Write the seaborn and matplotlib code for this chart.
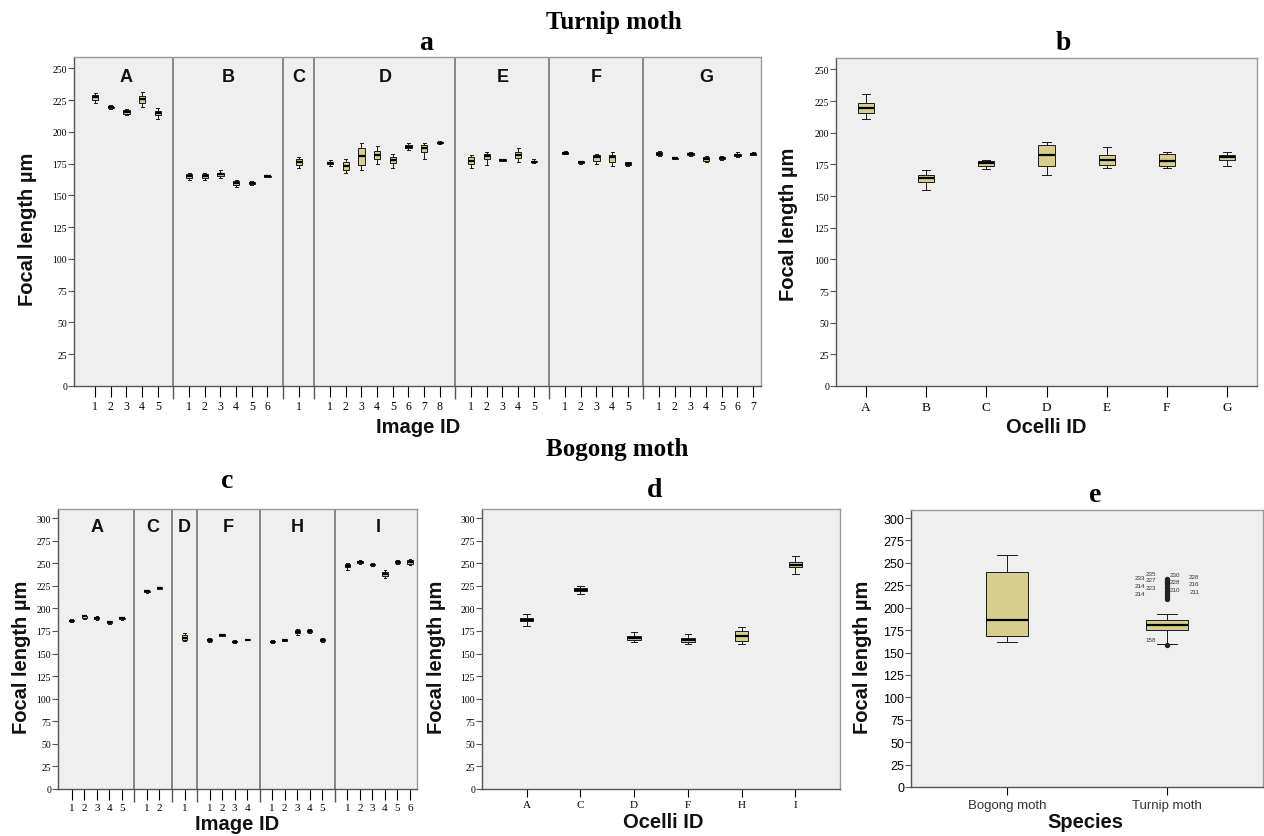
import matplotlib
matplotlib.use("Agg")
import matplotlib.pyplot as plt
import matplotlib.transforms as mtransforms
import numpy as np
import pandas as pd
import seaborn as sns

# every box is given as (low whisker, Q1, median, Q3, high whisker), focal length in µm

# a: turnip moth, one box per image, grouped by ocellus
turnip_ocelli = ["A", "B", "C", "D", "E", "F", "G"]
turnip_img_A = [(223, 225.5, 227.5, 229, 231), (218, 218.8, 219.4, 220, 221),
                (213, 214.5, 216, 217, 218), (220, 223, 226, 228, 231.5),
                (210.5, 213, 215, 216.5, 218.5)]
turnip_img_B = [(162, 163.5, 165, 167, 168), (162.5, 164, 165.5, 167, 168),
                (164, 165.5, 167, 168, 170), (157, 158.5, 159.7, 161, 162.5),
                (158, 159, 159.7, 160.5, 161.5), (164.5, 164.8, 165, 165.2, 165.5)]
turnip_img_C = [(171.5, 174, 176.5, 178.5, 180.5)]
turnip_img_D = [(173, 174.5, 175.5, 176.5, 178), (167.5, 170, 173, 176, 178.5),
                (170, 174, 181, 187.5, 191), (175, 178.5, 182, 185, 189),
                (172, 175.5, 178, 180, 183), (186, 187.5, 188.5, 189.5, 191),
                (179, 184, 187, 190, 191), (190.5, 191, 191.6, 192, 192.5)]
turnip_img_E = [(172, 174.5, 177, 180, 182), (174, 178.5, 181, 183, 184),
                (177, 177.5, 178, 178.5, 179), (176, 179.5, 182, 184, 187),
                (175.5, 176, 176.7, 177.5, 178.5)]
turnip_img_F = [(182.5, 183, 183.8, 184.3, 184.8), (175, 175.5, 176.2, 176.8, 177.5),
                (175, 177.5, 180, 181.5, 183), (173, 176, 180, 182, 184),
                (173, 174, 175, 176, 176.5)]
turnip_img_G = [(181, 182, 183, 184, 185), (178.5, 179, 179.4, 179.8, 180.2),
                (181, 182, 183, 183.5, 184), (176, 177, 178.5, 180, 181),
                (178, 178.8, 179.5, 180.2, 181), (180, 181, 182, 183, 184),
                (181.5, 182, 182.8, 183.5, 184)]

# b: turnip moth, one box per ocellus
turnip_ocelli_stats = [(210.7, 215.2, 219.9, 223.8, 230.4), (155, 161, 164.4, 167, 170.7),
                       (171.5, 174, 176, 177.5, 178.5), (167, 174, 182.7, 190.6, 192.4),
                       (172.3, 174.9, 178.5, 182.7, 189), (172.3, 173.6, 178, 183.2, 184.6),
                       (174, 178.5, 180.6, 182.7, 184.6)]

# c: bogong moth, one box per image
bogong_ocelli = ["A", "C", "D", "F", "H", "I"]
bogong_img_A = [(184.5, 185.5, 186.3, 187.2, 188), (188, 189.5, 191, 192, 193),
                (187, 188, 189, 190, 191), (182.5, 183.5, 184.5, 185.5, 186.5),
                (187.5, 188.3, 189, 189.7, 190.5)]
bogong_img_C = [(217.5, 218.2, 218.8, 219.5, 220), (221, 221.8, 222.5, 223.2, 224)]
bogong_img_D = [(164, 165.5, 167, 171, 173)]
bogong_img_F = [(163, 164.3, 165.5, 166.5, 167.5), (169, 169.8, 170.5, 171.2, 172),
                (161.5, 162.3, 163, 163.7, 164.5), (164.5, 165, 165.3, 165.6, 166)]
bogong_img_H = [(161.5, 162.5, 163, 164, 165), (163.5, 164.3, 165, 165.8, 166.5),
                (171, 172.5, 174, 175.5, 177), (172.5, 174, 175, 176.3, 177.5),
                (162.5, 164, 165, 166, 167.5)]
bogong_img_I = [(243, 245.5, 247, 249, 250.5), (249, 250.3, 251, 252, 253),
                (246.5, 247.5, 248.3, 249, 250), (234, 236, 238, 240, 242.5),
                (249, 250.5, 251.7, 252.7, 254), (247.5, 249.5, 251, 253, 254.5)]

# d: bogong moth, one box per ocellus
bogong_ocelli_stats = [(180.8, 185.6, 187.5, 189.3, 193.7), (216, 218.8, 220.7, 222, 224.4),
                       (162.4, 165.3, 167.2, 169, 173.4), (160.5, 163, 165.3, 167.5, 171.6),
                       (160.5, 163.5, 169.7, 174.5, 179), (238, 245.4, 248.3, 251.7, 258.3)]

# e: both species
species = ["Bogong moth", "Turnip moth"]
species_stats = [(161.7, 168, 186.6, 239.8, 258.4), (159.5, 174.7, 180.3, 185.9, 193.3)]
turnip_outliers = [232, 231, 229, 228, 226, 223, 221, 219, 216.5, 214, 212, 210, 158.5]
turnip_outlier_ids = ["235", "230", "228", "233", "227", "228", "216", "214", "223",
                      "210", "211", "214", "158"]

W, H = 1264, 837
BOX = "#d6cd8f"
PANEL = "#efefef"
SERIF = "Liberation Serif"
SANS = "Liberation Sans"

plt.rcParams["font.family"] = SERIF
fig = plt.figure(figsize=(W / 100, H / 100), dpi=100)


def px_axes(left, top, right, bottom):
    return fig.add_axes([left / W, 1 - bottom / H, (right - left) / W, (bottom - top) / H])


def px_text(x, y, s, **kw):
    fig.text(x / W, 1 - y / H, s, ha="center", va="center", **kw)


def style_axes(ax, ytop, ystep_max, tick_family=SERIF, ysize=7):
    ax.set_facecolor(PANEL)
    ax.set_ylim(0, ytop)
    ax.set_yticks(np.arange(0, ystep_max + 1, 25))
    for side in ["top", "right"]:
        ax.spines[side].set_color("#9a9a9a")
    for side in ["left", "bottom"]:
        ax.spines[side].set_color("#555555")
    for sp in ax.spines.values():
        sp.set_linewidth(1.0)
    ax.tick_params(axis="y", length=4, width=0.8, labelsize=ysize, pad=1, color="#555555")
    ax.set_xlabel("")
    ax.set_ylabel("")
    for lbl in ax.get_yticklabels() + ax.get_xticklabels():
        lbl.set_fontfamily(tick_family)


def draw_boxes(ax, df, x, width, native=False, order=None):
    sns.boxplot(data=df, x=x, y="value", order=order, native_scale=native, whis=np.inf,
                width=width, color=BOX, saturation=1, linecolor="#1a1a1a", linewidth=0.7,
                fliersize=0, medianprops=dict(color="black", linewidth=1.6), ax=ax)


def image_panel(ax, groups, stats_lists, xlim, ytop, ystep_max, letter_y):
    rows, ticks, labels, seps, centers = [], [], [], [], []
    offset = 0
    for stats in stats_lists:
        for i, s in enumerate(stats):
            pos = offset + 1 + i
            ticks.append(pos)
            labels.append(str(i + 1))
            rows += [(pos, v) for v in s]
        centers.append(offset + (len(stats) + 1) / 2)
        offset += len(stats) + 1
        seps.append(offset)
    df = pd.DataFrame(rows, columns=["pos", "value"])
    draw_boxes(ax, df, "pos", 0.42, native=True)
    for s in seps[:-1]:
        ax.axvline(s, color="#6a6a6a", lw=1.1, zorder=1)
    ax.set_xlim(*xlim)
    ax.set_xticks(ticks)
    ax.set_xticklabels(labels)
    ax.set_xticks(seps[:-1], minor=True)
    ax.tick_params(axis="x", which="major", length=8, width=0.8, labelsize=8.5, pad=2)
    ax.tick_params(axis="x", which="minor", length=9, width=1.0, color="#555555")
    trans = mtransforms.blended_transform_factory(ax.transData, ax.transAxes)
    for c, g in zip(centers, groups):
        ax.text(c, letter_y, g, transform=trans, ha="center", va="center",
                fontsize=13, fontweight="bold", family=SANS, color="#111111")
    style_axes(ax, ytop, ystep_max)


def ocelli_frame(keys, stats):
    rows = [(k, v) for k, s in zip(keys, stats) for v in s]
    return pd.DataFrame(rows, columns=["group", "value"])


# ---- a ----
ax_a = px_axes(74, 58, 761, 387)
image_panel(ax_a, turnip_ocelli,
            [turnip_img_A, turnip_img_B, turnip_img_C, turnip_img_D,
             turnip_img_E, turnip_img_F, turnip_img_G],
            (-0.35, 43.5), 259, 250, 0.942)

# ---- b ----
ax_b = px_axes(836, 59, 1257, 387)
draw_boxes(ax_b, ocelli_frame(turnip_ocelli, turnip_ocelli_stats), "group", 0.27,
           order=turnip_ocelli)
ax_b.set_xlim(-0.5, 6.5)
ax_b.tick_params(axis="x", length=8, width=0.8, labelsize=9.5, pad=3)
style_axes(ax_b, 259, 250)

# ---- c ----
ax_c = px_axes(58, 510, 417, 790)
image_panel(ax_c, bogong_ocelli,
            [bogong_img_A, bogong_img_C, bogong_img_D, bogong_img_F,
             bogong_img_H, bogong_img_I],
            (-0.1, 28.56), 310, 300, 0.936)
ax_c.tick_params(axis="x", which="major", labelsize=8)

# ---- d ----
ax_d = px_axes(482, 510, 840, 790)
draw_boxes(ax_d, ocelli_frame(bogong_ocelli, bogong_ocelli_stats), "group", 0.25,
           order=bogong_ocelli)
ax_d.set_xlim(-0.83, 5.83)
ax_d.tick_params(axis="x", length=6, width=0.8, labelsize=8, pad=2)
style_axes(ax_d, 310, 300)

# ---- e ----
ax_e = px_axes(911, 511, 1263, 788)
draw_boxes(ax_e, ocelli_frame(species, species_stats), "group", 0.26, order=species)
ax_e.scatter([1] * len(turnip_outliers), turnip_outliers, s=8, color="#222222", zorder=5)
for i, (v, lab) in enumerate(zip(turnip_outliers, turnip_outlier_ids)):
    dx = [-0.1, 0.05, 0.17, -0.17][i % 4]
    ax_e.text(1 + dx, v + 6, lab, fontsize=4.5, family=SANS, color="#333333",
              ha="center", va="center")
ax_e.set_xlim(-0.6, 1.6)
ax_e.tick_params(axis="x", length=6, width=0.8, labelsize=9.5, pad=3, labelcolor="#333333")
style_axes(ax_e, 309, 300, tick_family=SANS, ysize=9)

# ---- titles and axis labels ----
title_kw = dict(fontsize=18, fontweight="bold", family=SERIF)
letter_kw = dict(fontsize=20, fontweight="bold", family=SERIF)
label_kw = dict(fontsize=14.5, fontweight="bold", family=SANS, color="#111111")

px_text(614, 22, "Turnip moth", **title_kw)
px_text(617, 450, "Bogong moth", **title_kw)
px_text(426, 43, "a", **letter_kw)
px_text(1063, 44, "b", **letter_kw)
px_text(227, 482, "c", **letter_kw)
px_text(655, 491, "d", **letter_kw)
px_text(1095, 496, "e", **letter_kw)

px_text(418, 428, "Image ID", **label_kw)
px_text(1046, 428, "Ocelli ID", **label_kw)
px_text(237, 825, "Image ID", **label_kw)
px_text(663, 823, "Ocelli ID", **label_kw)
px_text(1085, 823, "Species", **label_kw)

for x, y in [(28, 229), (789, 224), (22, 657), (437, 657), (862, 657)]:
    px_text(x, y, "Focal length µm", rotation=90, **label_kw)

fig.savefig("out.png", dpi=100, facecolor="white")
